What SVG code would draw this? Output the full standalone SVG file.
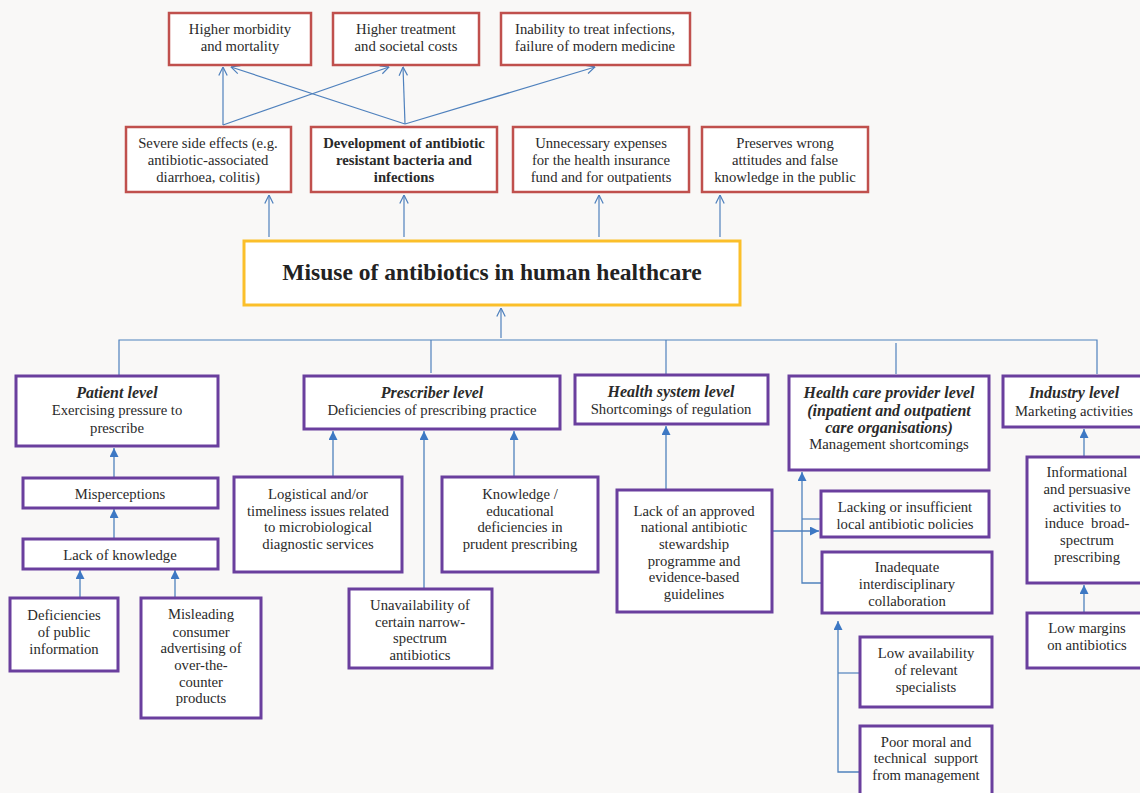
<svg xmlns="http://www.w3.org/2000/svg" width="1140" height="793" viewBox="0 0 1140 793">
<defs>
<style>
.bg{fill:#f9f8f7}
.red{fill:#fff;stroke:#c0504d;stroke-width:2.5}
.pur{fill:#fff;stroke:#6a3f9e;stroke-width:3}
.main{fill:#fff;stroke:#fbbf2a;stroke-width:3}
.t{font-family:"Liberation Serif","Times New Roman",serif;font-size:14.7px;fill:#2a2a2a;text-anchor:middle}
.b{font-weight:bold}
.bi{font-weight:bold;font-style:italic;font-size:16px}
.title{font-family:"Liberation Serif","Times New Roman",serif;font-size:23.5px;font-weight:bold;fill:#222;text-anchor:middle}
.ln{fill:none;stroke:#4f81bd;stroke-width:1.2}
.lo{fill:none;stroke:#4f81bd;stroke-width:1.2;marker-end:url(#open)}
.lf{fill:none;stroke:#4f81bd;stroke-width:1.3;marker-end:url(#fill)}
</style>
<marker id="open" viewBox="0 0 10 10" refX="9.5" refY="5" markerWidth="10" markerHeight="10" orient="auto" markerUnits="userSpaceOnUse">
<path d="M1,0.8 L9.5,5 L1,9.2" fill="none" stroke="#4f81bd" stroke-width="1.2"/>
</marker>
<marker id="fill" viewBox="0 0 10 10" refX="10" refY="5" markerWidth="9" markerHeight="9" orient="auto" markerUnits="userSpaceOnUse">
<path d="M0,0 L10,5 L0,10 z" fill="#3d78c4"/>
</marker>
<clipPath id="clipLack"><rect x="820" y="490" width="170" height="39"/></clipPath>
</defs>
<rect class="bg" x="0" y="0" width="1140" height="793"/>

<g id="connectors">
<line class="lo" x1="223" y1="125" x2="223" y2="67"/>
<line class="lo" x1="223" y1="125" x2="389" y2="67"/>
<line class="lo" x1="405" y1="124" x2="403" y2="67"/>
<line class="lo" x1="405" y1="124" x2="231" y2="67"/>
<line class="lo" x1="405" y1="124" x2="595" y2="67"/>
<line class="lo" x1="269" y1="237" x2="269" y2="195"/>
<line class="lo" x1="404" y1="237" x2="404" y2="195"/>
<line class="lo" x1="599" y1="237" x2="599" y2="195"/>
<line class="lo" x1="720" y1="237" x2="720" y2="195"/>
<line class="lo" x1="501" y1="338" x2="501" y2="308"/>
<polyline class="ln" points="119,375 119,340 1097,340 1097,374"/>
<line class="ln" x1="431" y1="340" x2="431" y2="373"/>
<line class="ln" x1="666" y1="340" x2="666" y2="374"/>
<line class="ln" x1="896" y1="343" x2="896" y2="374"/>
<line class="lf" x1="114" y1="477" x2="114" y2="448"/>
<line class="lf" x1="114" y1="538" x2="114" y2="509"/>
<line class="lf" x1="80" y1="597" x2="80" y2="570"/>
<line class="lf" x1="175" y1="597" x2="175" y2="570"/>
<line class="lf" x1="333" y1="476" x2="333" y2="431"/>
<line class="lf" x1="424" y1="588" x2="424" y2="431"/>
<line class="lf" x1="514" y1="476" x2="514" y2="431"/>
<line class="lf" x1="666" y1="489" x2="666" y2="426"/>
<line class="lf" x1="773" y1="531" x2="819" y2="531"/>
<polyline class="lf" points="822,583 802,583 802,472"/>
<line class="ln" x1="802" y1="519" x2="821" y2="519"/>
<polyline class="lf" points="860,772 838,772 838,621"/>
<line class="ln" x1="838" y1="673" x2="860" y2="673"/>
<line class="lf" x1="1084" y1="456" x2="1084" y2="429"/>
<line class="lf" x1="1084" y1="612" x2="1084" y2="585"/>
</g>

<g id="n-morbidity"><rect class="red" x="169" y="13" width="142" height="52"/>
<text class="t" x="240" y="34">Higher morbidity</text><text class="t" x="240" y="51">and mortality</text></g>
<g id="n-costs"><rect class="red" x="333" y="13" width="146" height="52"/>
<text class="t" x="406" y="34">Higher treatment</text><text class="t" x="406" y="51">and societal costs</text></g>
<g id="n-inability"><rect class="red" x="501" y="13" width="189" height="52"/>
<text class="t" x="595" y="34">Inability to treat infections,</text><text class="t" x="595" y="51">failure of modern medicine</text></g>

<g id="n-side"><rect class="red" x="126" y="127" width="165" height="65"/>
<text class="t" x="208" y="148">Severe side effects (e.g.</text><text class="t" x="208" y="165">antibiotic-associated</text><text class="t" x="208" y="182">diarrhoea, colitis)</text></g>
<g id="n-resistant"><rect class="red" x="311" y="127" width="186" height="65"/>
<text class="t b" x="404" y="148">Development of antibiotic</text><text class="t b" x="404" y="165">resistant bacteria and</text><text class="t b" x="404" y="182">infections</text></g>
<g id="n-expenses"><rect class="red" x="513" y="127" width="176" height="65"/>
<text class="t" x="601" y="148">Unnecessary expenses</text><text class="t" x="601" y="165">for the health insurance</text><text class="t" x="601" y="182">fund and for outpatients</text></g>
<g id="n-preserves"><rect class="red" x="702" y="127" width="166" height="65"/>
<text class="t" x="785" y="148">Preserves wrong</text><text class="t" x="785" y="165">attitudes and false</text><text class="t" x="785" y="182">knowledge in the public</text></g>

<g id="n-main"><rect class="main" x="244" y="241" width="496" height="64"/>
<text class="title" x="492" y="280">Misuse of antibiotics in human healthcare</text></g>

<g id="n-patient"><rect class="pur" x="16" y="376" width="202" height="70"/>
<text class="t bi" x="117" y="398">Patient level</text><text class="t" x="117" y="415">Exercising pressure to</text><text class="t" x="117" y="433">prescribe</text></g>
<g id="n-prescriber"><rect class="pur" x="304" y="376" width="256" height="53"/>
<text class="t bi" x="432" y="398">Prescriber level</text><text class="t" x="432" y="415">Deficiencies of prescribing practice</text></g>
<g id="n-healthsystem"><rect class="pur" x="575" y="375" width="193" height="49"/>
<text class="t bi" x="671" y="397">Health system level</text><text class="t" x="671" y="414">Shortcomings of regulation</text></g>
<g id="n-hcp"><rect class="pur" x="789" y="376" width="200" height="94"/>
<text class="t bi" x="889" y="398">Health care provider level</text><text class="t bi" x="889" y="416">(inpatient and outpatient</text><text class="t bi" x="889" y="433">care organisations)</text><text class="t" x="889" y="449">Management shortcomings</text></g>
<g id="n-industry"><rect class="pur" x="1003" y="376" width="150" height="51"/>
<text class="t bi" x="1074" y="398">Industry level</text><text class="t" x="1074" y="416">Marketing activities</text></g>

<g id="n-misperceptions"><rect class="pur" x="23" y="478" width="195" height="30"/>
<text class="t" x="120" y="499">Misperceptions</text></g>
<g id="n-lackknowledge"><rect class="pur" x="23" y="539" width="195" height="30"/>
<text class="t" x="120" y="560">Lack of knowledge</text></g>
<g id="n-deficiencies"><rect class="pur" x="10" y="598" width="108" height="73"/>
<text class="t" x="64" y="620">Deficiencies</text><text class="t" x="64" y="637">of public</text><text class="t" x="64" y="654">information</text></g>
<g id="n-misleading"><rect class="pur" x="141" y="598" width="120" height="120"/>
<text class="t" x="201" y="619">Misleading</text><text class="t" x="201" y="637">consumer</text><text class="t" x="201" y="653">advertising of</text><text class="t" x="201" y="670">over-the-</text><text class="t" x="201" y="687">counter</text><text class="t" x="201" y="703">products</text></g>

<g id="n-logistical"><rect class="pur" x="234" y="477" width="168" height="95"/>
<text class="t" x="318" y="499">Logistical and/or</text><text class="t" x="318" y="516">timeliness issues related</text><text class="t" x="318" y="532">to microbiological</text><text class="t" x="318" y="549">diagnostic services</text></g>
<g id="n-knowledge"><rect class="pur" x="442" y="477" width="156" height="95"/>
<text class="t" x="520" y="499">Knowledge /</text><text class="t" x="520" y="516">educational</text><text class="t" x="520" y="532">deficiencies in</text><text class="t" x="520" y="549">prudent prescribing</text></g>
<g id="n-unavailability"><rect class="pur" x="349" y="589" width="143" height="79"/>
<text class="t" x="420" y="610">Unavailability of</text><text class="t" x="420" y="627">certain narrow-</text><text class="t" x="420" y="643">spectrum</text><text class="t" x="420" y="660">antibiotics</text></g>

<g id="n-stewardship"><rect class="pur" x="617" y="490" width="155" height="122"/>
<text class="t" x="694" y="516">Lack of an approved</text><text class="t" x="694" y="532">national antibiotic</text><text class="t" x="694" y="549">stewardship</text><text class="t" x="694" y="566">programme and</text><text class="t" x="694" y="582">evidence-based</text><text class="t" x="694" y="599">guidelines</text></g>

<g id="n-policies"><rect class="pur" x="821" y="491" width="168" height="46"/>
<text class="t" x="905" y="512">Lacking or insufficient</text><text class="t" x="905" y="529" clip-path="url(#clipLack)">local antibiotic policies</text></g>
<g id="n-interdisciplinary"><rect class="pur" x="822" y="552" width="170" height="61"/>
<text class="t" x="907" y="572">Inadequate</text><text class="t" x="907" y="589">interdisciplinary</text><text class="t" x="907" y="606">collaboration</text></g>
<g id="n-specialists"><rect class="pur" x="860" y="637" width="132" height="70"/>
<text class="t" x="926" y="658">Low availability</text><text class="t" x="926" y="675">of relevant</text><text class="t" x="926" y="692">specialists</text></g>
<g id="n-support"><rect class="pur" x="860" y="726" width="132" height="80"/>
<text class="t" x="926" y="747">Poor moral and</text><text class="t" x="926" y="763" xml:space="preserve">technical  support</text><text class="t" x="926" y="780">from management</text></g>

<g id="n-informational"><rect class="pur" x="1027" y="457" width="125" height="126"/>
<text class="t" x="1087" y="477">Informational</text><text class="t" x="1087" y="494">and persuasive</text><text class="t" x="1087" y="512">activities to</text><text class="t" x="1087" y="528" xml:space="preserve">induce  broad-</text><text class="t" x="1087" y="545">spectrum</text><text class="t" x="1087" y="562">prescribing</text></g>
<g id="n-margins"><rect class="pur" x="1027" y="613" width="125" height="55"/>
<text class="t" x="1087" y="633">Low margins</text><text class="t" x="1087" y="650">on antibiotics</text></g>
</svg>
